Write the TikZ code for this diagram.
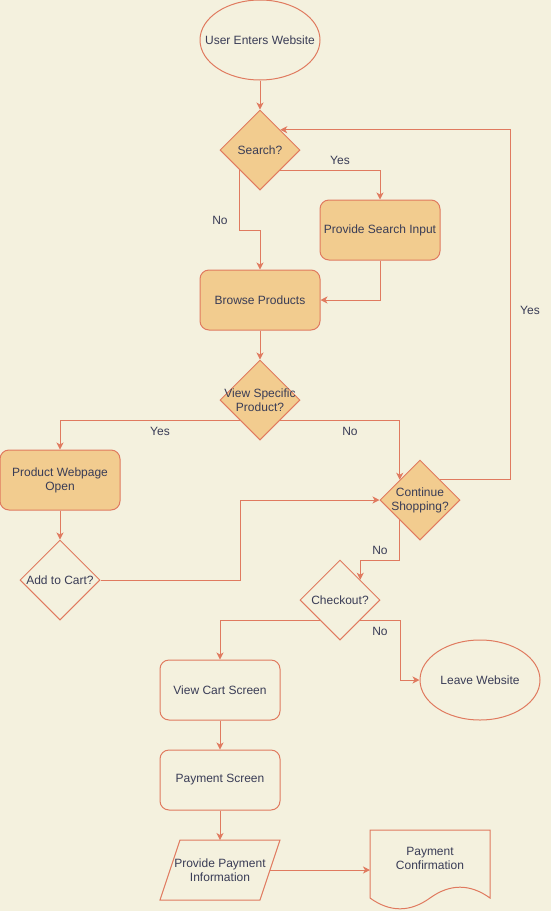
\documentclass[tikz,border=0pt]{standalone}
\usepackage{fontspec}
\setmainfont{Liberation Sans}
\usetikzlibrary{shapes.geometric,arrows.meta,calc}
\definecolor{bg}{HTML}{F4F1DE}
\definecolor{edge}{HTML}{E07A5F}
\definecolor{boxfill}{HTML}{F2CC8F}
\definecolor{ink}{HTML}{393C56}

\begin{document}
\begin{tikzpicture}[x=1pt,y=-1pt,
  txtfont/.style={text=ink, font=\fontsize{12}{14}\selectfont, align=center},
  base/.style={draw=edge, line width=1pt, txtfont, inner sep=0pt},
  terminal/.style={base, ellipse, minimum width=120pt, minimum height=80pt, fill=bg},
  procbox/.style={base, rounded corners=9pt, minimum width=120pt, minimum height=60pt},
  filled/.style={fill=boxfill},
  plain/.style={fill=bg},
  decision/.style={base, diamond, minimum width=80pt, minimum height=80pt},
  dtext/.style={txtfont, inner sep=0pt},
  flow/.style={draw=edge, line width=1pt, -{Stealth[length=7pt,width=7pt,inset=2pt]}},
  lbl/.style={txtfont, inner sep=0pt}
]
% canvas
\fill[bg] (0,0) rectangle (551,911);
\useasboundingbox (0,0) rectangle (551,911);

% nodes (shapes with fixed size carry their text as a centred label)
\node[terminal, label={[dtext]center:User Enters Website}] (start) at (260,40) {};
\node[decision, filled, label={[dtext]center:Search?}] (search) at (260,150) {};
\node[procbox, filled] (psi) at (380,230) {Provide Search Input};
\node[procbox, filled] (browse) at (260,300) {Browse Products};
\node[decision, filled, label={[dtext]center:View Specific\\Product?}] (view) at (260,400) {};
\node[procbox, filled] (pwo) at (60,480) {Product Webpage\\Open};
\node[decision, plain, label={[dtext]center:Add to Cart?}] (cart) at (60,580) {};
\node[decision, filled, label={[dtext]center:Continue\\Shopping?}] (cont) at (420,500) {};
\node[decision, plain, label={[dtext]center:Checkout?}] (check) at (340,600) {};
\node[terminal, label={[dtext]center:Leave Website}] (leave) at (480,680) {};
\node[procbox, plain] (vcs) at (220,690) {View Cart Screen};
\node[procbox, plain] (pay) at (220,780) {Payment Screen};

% input/output parallelogram
\draw[draw=edge, line width=1pt, fill=bg] (160,900) -- (180,840) -- (280,840) -- (260,900) -- cycle;
\node[lbl] (ppi) at (220,870) {Provide Payment\\Information};
\coordinate (ppiTop) at (220,840);
\coordinate (ppiRight) at (270,870);

% document shape
\draw[draw=edge, line width=1pt, fill=bg] (370,830) -- (490,830) -- (490,898)
  .. controls (470,883.6) and (450,883.6) .. (430,898)
  .. controls (410,912.4) and (390,912.4) .. (370,898) -- cycle;
\node[lbl] (doc) at (430,858) {Payment\\Confirmation};
\coordinate (docIn) at (370,870);

% connectors
\draw[flow] (start.south) -- (search.north);
\draw[flow] ($(search.east)!.5!(search.south)$) -| (psi.north);
\draw[flow] ($(search.west)!.5!(search.south)$) -- ++(0,60) -| (browse.north);
\draw[flow] (psi.south) |- (browse.east);
\draw[flow] (browse.south) -- (view.north);
\draw[flow] ($(view.west)!.5!(view.south)$) -| (pwo.north);
\draw[flow] ($(view.east)!.5!(view.south)$) -| ($(cont.west)!.5!(cont.north)$);
\draw[flow] (pwo.south) -- (cart.north);
\draw[flow] (cart.east) -- ++(140,0) |- (cont.west);
\draw[flow] ($(cont.east)!.5!(cont.north)$) -- ++(70,0) |- ($(search.east)!.5!(search.north)$);
\draw[flow] ($(cont.west)!.5!(cont.south)$) -- ++(0,40) -| ($(check.east)!.5!(check.north)$);
\draw[flow] ($(check.west)!.5!(check.south)$) -| (vcs.north);
\draw[flow] ($(check.east)!.5!(check.south)$) -- ++(40,0) |- (leave.west);
\draw[flow] (vcs.south) -- (pay.north);
\draw[flow] (pay.south) -- (ppiTop);
\draw[flow] (ppiRight) -- (docIn);

% edge labels
\node[lbl] (l1) at (340,160) {Yes};
\node[lbl] (l2) at (220,220) {No};
\node[lbl] (l3) at (530,310) {Yes};
\node[lbl] (l4) at (160,431) {Yes};
\node[lbl] (l5) at (350,431) {No};
\node[lbl] (l6) at (380,550) {No};
\node[lbl] (l7) at (380,631) {No};
\end{tikzpicture}
\end{document}
